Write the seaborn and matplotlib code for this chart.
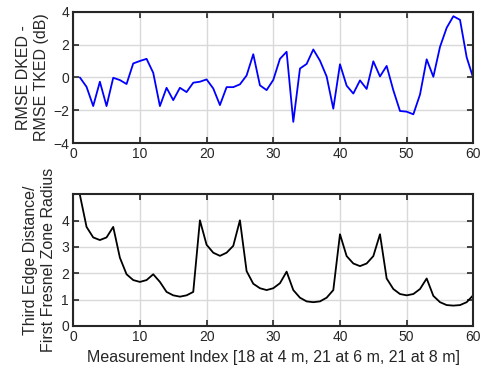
import numpy as np
import pandas as pd
import matplotlib
matplotlib.use("Agg")
import matplotlib.pyplot as plt
import seaborn as sns

# measurement index 1..60
idx = list(range(1, 61))

rmse_diff = [0.0, -0.57, -1.74, -0.26, -1.74, -0.02, -0.16, -0.4, 0.85, 1.0,
             1.13, 0.28, -1.74, -0.63, -1.38, -0.63, -0.89, -0.32, -0.26, -0.12,
             -0.67, -1.68, -0.59, -0.59, -0.42, 0.12, 1.41, -0.48, -0.77, -0.15,
             1.13, 1.56, -2.7, 0.54, 0.82, 1.7, 1.02, 0.06, -1.9, 0.8,
             -0.5, -0.98, -0.18, -0.7, 0.98, 0.06, 0.7, -0.78, -2.04, -2.08,
             -2.24, -1.04, 1.1, 0.04, 1.86, 3.02, 3.72, 3.5, 1.22, -0.06]

edge_ratio = [4.98, 3.76, 3.36, 3.26, 3.36, 3.76, 2.59, 1.96, 1.74, 1.67,
              1.74, 1.96, 1.67, 1.29, 1.16, 1.11, 1.16, 1.29, 4.01, 3.08,
              2.78, 2.66, 2.78, 3.04, 4.01, 2.08, 1.6, 1.43, 1.36, 1.43,
              1.62, 2.06, 1.36, 1.07, 0.93, 0.9, 0.93, 1.07, 1.36, 3.48,
              2.65, 2.37, 2.27, 2.37, 2.65, 3.48, 1.8, 1.4, 1.21, 1.16,
              1.21, 1.4, 1.8, 1.14, 0.9, 0.79, 0.77, 0.79, 0.9, 1.17]

df = pd.DataFrame({"idx": idx, "diff": rmse_diff, "ratio": edge_ratio})

sns.set_style("ticks")
plt.rcParams["font.family"] = ["Liberation Sans", "DejaVu Sans"]
plt.rcParams["text.color"] = "#262626"
plt.rcParams["axes.labelcolor"] = "#262626"
plt.rcParams["xtick.color"] = "#262626"
plt.rcParams["ytick.color"] = "#262626"

fig = plt.figure(figsize=(4.88, 3.75), dpi=100)
ax1 = fig.add_axes([0.150, 0.618, 0.820, 0.351])
ax2 = fig.add_axes([0.150, 0.131, 0.820, 0.351])

sns.lineplot(data=df, x="idx", y="diff", color=(0, 0, 1), lw=1.3, ax=ax1)
sns.lineplot(data=df, x="idx", y="ratio", color="black", lw=1.3, ax=ax2)

ax1.set_ylim(-4, 4)
ax1.set_yticks([-4, -2, 0, 2, 4])
ax2.set_ylim(0, 5)
ax2.set_yticks([0, 1, 2, 3, 4])

for ax in (ax1, ax2):
    ax.set_xlim(0, 60)
    ax.set_xticks([0, 10, 20, 30, 40, 50, 60])
    ax.grid(True, color="#d9d9d9", lw=1.0)
    ax.set_axisbelow(True)
    for s in ax.spines.values():
        s.set_visible(True)
        s.set_linewidth(1.5)
        s.set_color("#262626")
    ax.tick_params(direction="in", top=True, right=True, length=4, width=1.2,
                   labelsize=10, pad=3)
    ax.set_xlabel("")

ax1.set_ylabel("RMSE DKED -\nRMSE TKED (dB)", fontsize=11.5, labelpad=3)
ax2.set_ylabel("Third Edge Distance/\nFirst Fresnel Zone Radius", fontsize=11.5, labelpad=4)
ax2.set_xlabel("Measurement Index [18 at 4 m, 21 at 6 m, 21 at 8 m]", fontsize=11.5, labelpad=4)

fig.savefig("out.png", dpi=100)
